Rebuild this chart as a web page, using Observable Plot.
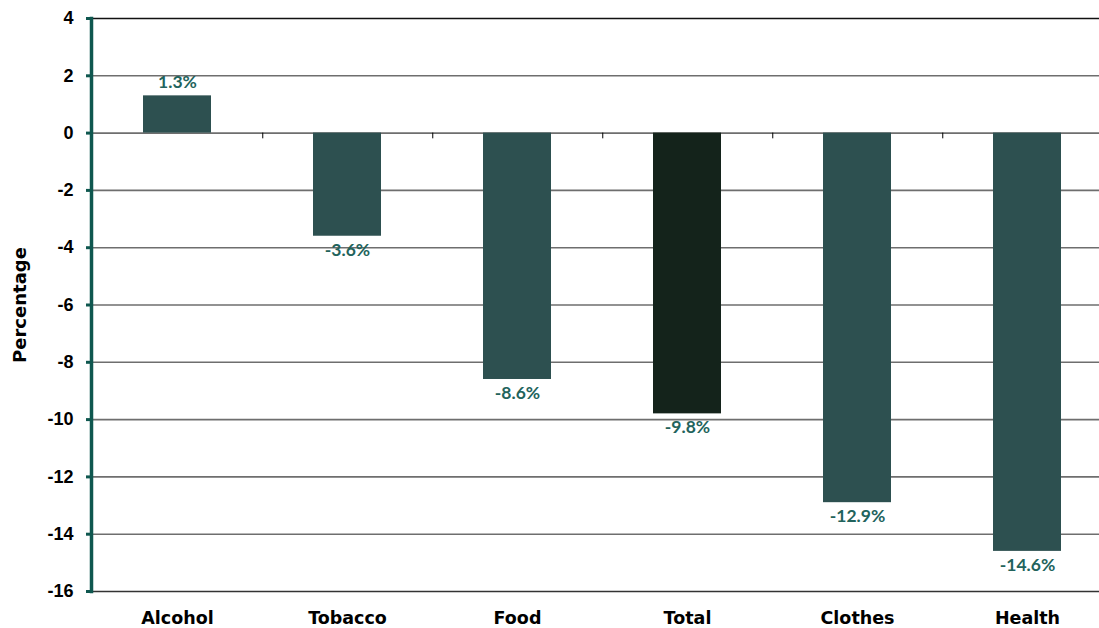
<!DOCTYPE html>
<html>
<head>
<meta charset="utf-8">
<script src="https://cdn.jsdelivr.net/npm/d3@7"></script>
<script src="https://cdn.jsdelivr.net/npm/@observablehq/plot@0.6"></script>
<style>
  html, body { margin: 0; padding: 0; background: #fff; }
  #chart svg { display: block; }
</style>
</head>
<body>
<div id="chart"></div>
<script>
// Change in spending by category, percent
const categories = ["Alcohol", "Tobacco", "Food", "Total", "Clothes", "Health"];
const changes = [1.3, -3.6, -8.6, -9.8, -12.9, -14.6];
const yTicks = [4, 2, 0, -2, -4, -6, -8, -10, -12, -14, -16];
const yTitle = "Percentage";

const rows = categories.map((category, i) => ({ category, value: changes[i] }));
const label = d => d.value.toFixed(1) + "%";

const width = 1099, height = 628;
const marginLeft = 91, marginRight = -15, marginTop = 18, marginBottom = 37;
const step = (width - marginLeft - marginRight) / categories.length;

const teal = "#0f574f";
const barFill = "#2d5050";
const totalFill = "#14231b";
const labelColor = "#22635c";

const chart = Plot.plot({
  width, height, marginLeft, marginRight, marginTop, marginBottom,
  style: { background: "#fff", overflow: "hidden" },
  x: { domain: categories, paddingInner: 0.6, paddingOuter: 0.3, axis: null },
  y: { domain: [-16, 4], axis: null },
  marks: [
    // horizontal gridlines
    Plot.ruleY(yTicks.filter(t => t !== 4 && t !== -16), { stroke: "#6e6e6e", strokeWidth: 1.6 }),
    Plot.ruleY([4], { stroke: "#111", strokeWidth: 1.6 }),
    Plot.ruleY([-16], { stroke: "#333", strokeWidth: 1.6 }),
    // bars
    Plot.barY(rows, {
      x: "category", y: "value",
      fill: d => d.category === "Total" ? totalFill : barFill
    }),
    // small category separators on the zero line
    Plot.ruleX(categories.slice(0, -1), { x: d => d, dx: step / 2, y1: 0, y2: -0.2, stroke: "#000", strokeWidth: 1 }),
    // value labels
    Plot.text(rows.filter(d => d.value >= 0), {
      x: "category", y: "value", text: label, dy: -13,
      fill: labelColor, fontSize: 17.5, fontFamily: "Lato", fontWeight: "bold"
    }),
    Plot.text(rows.filter(d => d.value < 0), {
      x: "category", y: "value", text: label, dy: 14,
      fill: labelColor, fontSize: 17.5, fontFamily: "Lato", fontWeight: "bold"
    }),
    // y axis
    Plot.axisY({
      ticks: yTicks, tickSize: 5, tickPadding: 13, tickFormat: d => String(d),
      stroke: teal, strokeWidth: 3, label: null,
      fontSize: 18, fontWeight: "bold", fontFamily: "Liberation Sans", fill: "#000"
    }),
    Plot.frame({ anchor: "left", stroke: teal, strokeWidth: 3.5 }),
    Plot.text([yTitle], {
      frameAnchor: "left", rotate: -90, dx: -71, textAnchor: "middle",
      fontSize: 18, fontWeight: "bold", fontFamily: "DejaVu Sans", fill: "#000"
    }),
    // category axis
    Plot.axisX({
      tickSize: 0, tickPadding: 20, label: null,
      fontSize: 17.5, fontWeight: "bold", fontFamily: "DejaVu Sans", fill: "#000"
    })
  ]
});

document.getElementById("chart").appendChild(chart);
</script>
</body>
</html>
